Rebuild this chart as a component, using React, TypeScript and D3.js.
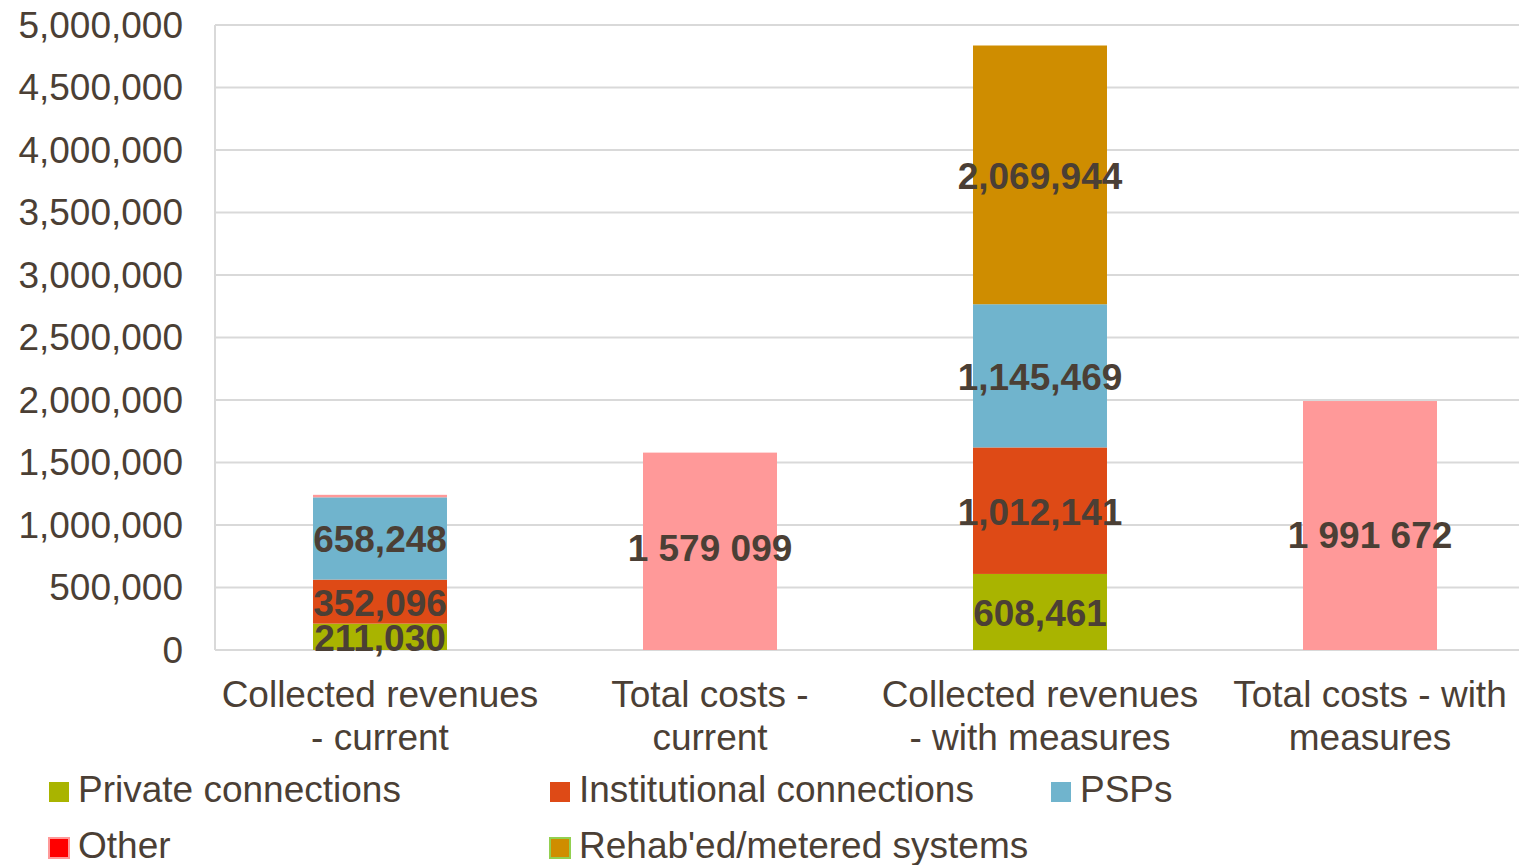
import React from "react";
import * as d3 from "d3";

const categories = [
  "Collected revenues - current",
  "Total costs - current",
  "Collected revenues - with measures",
  "Total costs - with measures",
];
const categoryLines = [
  ["Collected revenues", "- current"],
  ["Total costs -", "current"],
  ["Collected revenues", "- with measures"],
  ["Total costs - with", "measures"],
];
const privateConn = [211030, 0, 608461, 0];
const institutionalConn = [352096, 0, 1012141, 0];
const psps = [658248, 0, 1145469, 0];
const other = [20000, 1579099, 0, 1991672];
const rehab = [0, 0, 2069944, 0];

const seriesKeys = ["private", "institutional", "psps", "other", "rehab"];
const seriesNames = [
  "Private connections",
  "Institutional connections",
  "PSPs",
  "Other",
  "Rehab'ed/metered systems",
];
const seriesColors: Record<string, string> = {
  private: "#a9b400",
  institutional: "#de4a16",
  psps: "#70b4cd",
  other: "#ff9999",
  rehab: "#cf8d00",
};
const legendFill: Record<string, string> = {
  private: "#a9b400",
  institutional: "#de4a16",
  psps: "#70b4cd",
  other: "#ff0000",
  rehab: "#cf8d00",
};
const legendStroke: Record<string, string> = {
  private: "none",
  institutional: "none",
  psps: "none",
  other: "#ff9999",
  rehab: "#92d050",
};
const labelStyle: Record<string, "comma" | "space" | "none"> = {
  private: "comma",
  institutional: "comma",
  psps: "comma",
  other: "space",
  rehab: "comma",
};
const yTicks = [0, 500000, 1000000, 1500000, 2000000, 2500000, 3000000, 3500000, 4000000, 4500000, 5000000];

const W = 1519;
const H = 865;
const TEXT = "#4b3f35";
const FONT = "'Liberation Sans', Arial, sans-serif";

export default function App() {
  const x = d3.scaleBand<string>().domain(categories).range([215, 1535]).padding(0);
  const y = d3.scaleLinear().domain([0, 5000000]).range([650, 25]);
  const barW = x.bandwidth() * 0.406;

  const rows = categories.map((c, i) => ({
    cat: c,
    private: privateConn[i],
    institutional: institutionalConn[i],
    psps: psps[i],
    other: other[i],
    rehab: rehab[i],
  }));
  const stacked = d3.stack<any>().keys(seriesKeys)(rows);
  const commaFmt = d3.format(",");
  const spaceFmt = (v: number) => commaFmt(v).replace(/,/g, " ");

  const legendPos = [
    [49, 782],
    [550, 782],
    [1051, 782],
    [49, 838],
    [550, 838],
  ];
  // small manual label nudges for the cost bars (as in the source chart)
  const costLabelShift = [0, -4, 0, 9];

  return (
    <svg
      width={W}
      height={H}
      style={{ position: "absolute", left: 0, top: 0, display: "block", background: "#fff" }}
      fontFamily={FONT}
    >
      {yTicks.map((t) => (
        <line key={"g" + t} x1={215} x2={1535} y1={y(t)} y2={y(t)} stroke="#d9d9d9" strokeWidth={2} />
      ))}
      <line x1={215} x2={215} y1={y(5000000)} y2={y(0)} stroke="#d9d9d9" strokeWidth={2} />
      {yTicks.map((t) => (
        <text
          key={"t" + t}
          x={183}
          y={y(t)}
          dy="0.35em"
          textAnchor="end"
          fontSize={37}
          fill={TEXT}
        >
          {commaFmt(t)}
        </text>
      ))}
      {stacked.map((s) => (
        <g key={s.key}>
          {s.map((d, i) => {
            const v = d[1] - d[0];
            if (v <= 0) return null;
            const cx = (x(categories[i]) as number) + x.bandwidth() / 2;
            return (
              <rect
                key={i}
                x={cx - barW / 2}
                y={y(d[1])}
                width={barW}
                height={y(d[0]) - y(d[1])}
                fill={seriesColors[s.key]}
              />
            );
          })}
        </g>
      ))}
      {stacked.map((s) => (
        <g key={"l" + s.key}>
          {s.map((d, i) => {
            const v = d[1] - d[0];
            if (v <= 0 || v < 100000) return null;
            const style = labelStyle[s.key];
            if (style === "none") return null;
            const cx = (x(categories[i]) as number) + x.bandwidth() / 2;
            const cy = (y(d[0]) + y(d[1])) / 2 + (s.key === "other" ? costLabelShift[i] : 0);
            return (
              <text
                key={i}
                x={cx}
                y={cy + 1}
                dy="0.35em"
                textAnchor="middle"
                fontSize={37}
                fontWeight="bold"
                fill={TEXT}
              >
                {style === "space" ? spaceFmt(v) : commaFmt(v)}
              </text>
            );
          })}
        </g>
      ))}
      {categories.map((c, i) => {
        const cx = (x(c) as number) + x.bandwidth() / 2;
        return (
          <text key={"c" + i} x={cx} textAnchor="middle" fontSize={37} fill={TEXT}>
            <tspan x={cx} y={707}>
              {categoryLines[i][0]}
            </tspan>
            <tspan x={cx} y={750}>
              {categoryLines[i][1]}
            </tspan>
          </text>
        );
      })}
      {seriesKeys.map((k, i) => {
        const [lx, ly] = legendPos[i];
        return (
          <g key={"lg" + k}>
            <rect
              x={lx}
              y={ly}
              width={20}
              height={20}
              fill={legendFill[k]}
              stroke={legendStroke[k]}
              strokeWidth={legendStroke[k] === "none" ? 0 : 2}
            />
            <text x={lx + 29} y={ly + 20} fontSize={37} fill={TEXT}>
              {seriesNames[i]}
            </text>
          </g>
        );
      })}
    </svg>
  );
}
